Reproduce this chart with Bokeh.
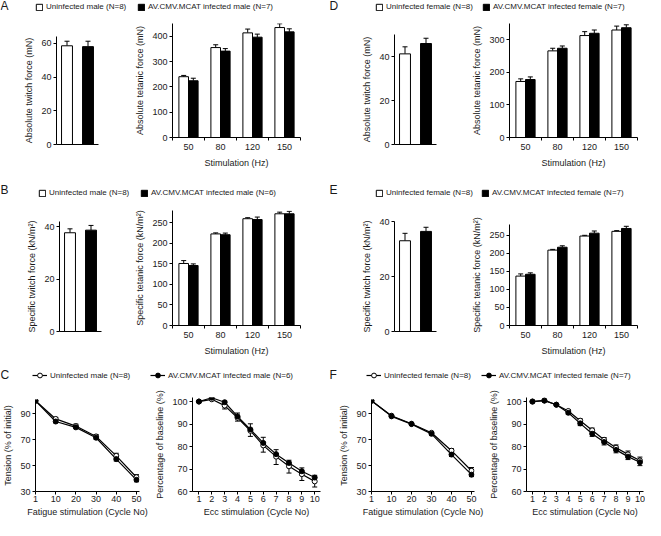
import numpy as np
from bokeh.plotting import figure
from bokeh.models import (ColumnDataSource, Range1d, FixedTicker, Whisker, TeeHead,
                          Legend, LegendItem, Label)
from bokeh.layouts import row, column
from bokeh.embed import file_html
from bokeh.resources import INLINE

# ---------------- data ----------------
freq_labels = ["50", "80", "120", "150"]
fatigue_cycles = [1, 10, 20, 30, 40, 50]
ecc_cycles = [1, 2, 3, 4, 5, 6, 7, 8, 9, 10]

# Panel A (male, absolute force)
A_twitch = [58.5, 58.0]
A_twitch_err = [2.7, 3.2]
A_tet_unf = [240, 355, 413, 434]
A_tet_unf_err = [5, 11, 15, 15]
A_tet_inf = [224, 341, 396, 417]
A_tet_inf_err = [10, 10, 12, 12]

# Panel B (male, specific force)
B_twitch = [37.7, 38.7]
B_twitch_err = [1.5, 1.8]
B_tet_unf = [151, 223, 260, 272]
B_tet_unf_err = [7, 2.5, 2.5, 4]
B_tet_inf = [146, 221, 258, 272]
B_tet_inf_err = [4, 4, 6, 6]

# Panel C (male, fatigue / eccentric)
C_fat_unf = [100, 86, 80.5, 72.5, 57.5, 41]
C_fat_unf_err = [0, 1.2, 1.5, 1.5, 2, 2]
C_fat_inf = [100, 84, 79.5, 71.5, 55, 39]
C_fat_inf_err = [0, 1, 1, 1.2, 1.5, 1.5]
C_ecc_unf = [100, 101, 98.2, 92.8, 87, 80.5, 75.5, 71.2, 67.7, 64.5]
C_ecc_unf_err = [0.3, 0.5, 1.5, 1.5, 2.5, 3, 3.5, 3, 2.8, 2.5]
C_ecc_inf = [100, 101.7, 99.7, 93.4, 87.6, 81.6, 76.6, 72.7, 69, 66.2]
C_ecc_inf_err = [0.3, 0.5, 0.5, 1.5, 2.5, 2.5, 2, 1.2, 1.5, 1]

# Panel D (female, absolute force)
D_twitch = [41.2, 45.9]
D_twitch_err = [3.2, 2.4]
D_tet_unf = [172, 266, 313, 330]
D_tet_unf_err = [8, 8, 12, 12]
D_tet_inf = [178, 274, 320, 337]
D_tet_inf_err = [8, 7, 10, 9]

# Panel E (female, specific force)
E_twitch = [33.0, 36.4]
E_twitch_err = [2.7, 1.5]
E_tet_unf = [137, 209, 248, 261]
E_tet_unf_err = [6, 2, 2, 2]
E_tet_inf = [142, 217, 256, 269]
E_tet_inf_err = [4, 4, 6, 6]

# Panel F (female, fatigue / eccentric)
F_fat_unf = [100, 88.5, 82.3, 75.3, 61.5, 46]
F_fat_unf_err = [0, 0.8, 0.8, 1, 1.5, 2.5]
F_fat_inf = [100, 88, 82, 74.5, 58.5, 43]
F_fat_inf_err = [0, 0.8, 0.8, 1, 1.5, 1.5]
F_ecc_unf = [100, 100.5, 98.6, 95.8, 91.5, 87.2, 83, 79.5, 76.5, 73.8]
F_ecc_unf_err = [0.3, 0.4, 0.4, 0.6, 0.8, 1, 1, 1.2, 1.5, 1.5]
F_ecc_inf = [100, 100.4, 98.6, 95, 90.3, 85.7, 82, 78.5, 75.5, 73]
F_ecc_inf_err = [0.3, 0.4, 0.4, 0.6, 1, 1.2, 1.3, 1.3, 1.3, 1.5]

# ---------------- style ----------------
FONT = "Liberation Sans"
TXT = "#1a1a1a"
BW = 0.3


def make_fig(vgeom, xgeom, xr, yr):
    # vgeom = (border_top, frame_height, border_bottom); xgeom = (left, frame_w, right)
    mbt, fh, mbb = vgeom
    mbl, fw, mbr = xgeom
    p = figure(width=mbl + fw + mbr, height=mbt + fh + mbb, x_range=xr, y_range=yr,
               min_border_left=mbl, min_border_right=mbr,
               min_border_top=mbt, min_border_bottom=mbb,
               output_backend="svg", toolbar_location=None)
    p.outline_line_color = None
    p.grid.visible = False
    p.background_fill_color = "white"
    p.border_fill_color = "white"
    return p


def style_axis(ax, label, ticks, minor=(), overrides=None, tick_out=3,
               label_standoff=2, title_standoff=4):
    ax.axis_label = label
    ax.ticker = FixedTicker(ticks=[float(t) for t in ticks],
                            minor_ticks=[float(t) for t in minor])
    ax.axis_label_text_font = FONT
    ax.axis_label_text_font_size = "9px"
    ax.axis_label_text_font_style = "normal"
    ax.axis_label_text_color = TXT
    ax.axis_label_standoff = title_standoff
    ax.major_label_text_font = FONT
    ax.major_label_text_font_size = "9px"
    ax.major_label_text_color = TXT
    ax.major_label_standoff = label_standoff
    ax.major_tick_in = 0
    ax.major_tick_out = tick_out
    ax.minor_tick_in = 0
    ax.minor_tick_out = 3 if len(minor) else 0
    ax.axis_line_color = "black"
    ax.major_tick_line_color = "black"
    ax.minor_tick_line_color = "black"
    if overrides:
        ax.major_label_overrides = overrides


def add_err(p, src, direction):
    head = TeeHead(size=5, line_width=1, line_color="black")
    if direction == "up":
        w = Whisker(source=src, base="x", upper="hi", lower="y",
                    upper_head=head, lower_head=None, line_width=1, line_color="black")
    else:
        w = Whisker(source=src, base="x", upper="y", lower="lo",
                    lower_head=head, upper_head=None, line_width=1, line_color="black")
    p.add_layout(w)


def twitch_chart(vgeom, xgeom, ymax, yticks, ylabel, means, errs):
    groups = np.arange(len(means))
    p = make_fig(vgeom, xgeom, Range1d(-0.5, len(means) - 0.5), Range1d(0, ymax))
    src = ColumnDataSource(dict(x=groups, y=means, hi=np.add(means, errs),
                                lo=np.subtract(means, errs), fill=["white", "black"]))
    p.vbar(x="x", top="y", bottom=0, width=0.52, fill_color="fill",
           line_color="black", line_width=1, source=src)
    add_err(p, src, "up")
    style_axis(p.yaxis[0], ylabel, yticks)
    style_axis(p.xaxis[0], "", [], tick_out=0)
    return p


def tetanic_chart(vgeom, xgeom, ymax, yticks, ylabel, unf, unf_err, inf, inf_err):
    idx = np.arange(len(freq_labels))
    p = make_fig(vgeom, xgeom, Range1d(-0.5, len(idx) - 0.5), Range1d(0, ymax))
    for off, vals, errs, fill in ((-BW / 2, unf, unf_err, "white"),
                                  (BW / 2, inf, inf_err, "black")):
        src = ColumnDataSource(dict(x=idx + off, y=vals, hi=np.add(vals, errs),
                                    lo=np.subtract(vals, errs)))
        p.vbar(x="x", top="y", bottom=0, width=BW, fill_color=fill,
               line_color="black", line_width=1, source=src)
        add_err(p, src, "up")
    style_axis(p.yaxis[0], ylabel, yticks)
    style_axis(p.xaxis[0], "Stimulation (Hz)", idx,
               minor=np.arange(len(idx) + 1) - 0.5,
               overrides={int(i): lab for i, lab in zip(idx, freq_labels)},
               tick_out=0, label_standoff=3, title_standoff=5)
    return p


def line_chart(vgeom, xgeom, xr, xs, overrides, xlabel, ylabel, ymin, ymax, yticks,
               unf, unf_err, unf_dir, inf, inf_err, inf_dir):
    p = make_fig(vgeom, xgeom, xr, Range1d(ymin, ymax))
    for vals, errs, d in ((unf, unf_err, unf_dir), (inf, inf_err, inf_dir)):
        src = ColumnDataSource(dict(x=xs, y=vals, hi=np.add(vals, errs),
                                    lo=np.subtract(vals, errs)))
        add_err(p, src, d)
        p.line(x="x", y="y", line_color="black", line_width=1.2, source=src)
    for vals, fill in ((unf, "white"), (inf, "black")):
        src = ColumnDataSource(dict(x=xs, y=vals))
        p.scatter(x="x", y="y", marker="circle", size=5, fill_color=fill,
                  line_color="black", line_width=1, source=src)
    style_axis(p.yaxis[0], ylabel, yticks)
    style_axis(p.xaxis[0], xlabel, xs, overrides=overrides,
               label_standoff=1, title_standoff=2)
    return p


def header(w, h, letter, letter_x, letter_y, legends):
    p = figure(width=w, height=h, x_range=Range1d(0, w), y_range=Range1d(0, h),
               x_axis_location=None, y_axis_location=None, min_border=0,
               output_backend="svg", toolbar_location=None)
    p.outline_line_color = None
    p.grid.visible = False
    p.add_layout(Label(x=letter_x, y=letter_y, x_units="screen", y_units="screen",
                       text=letter, text_font=FONT, text_font_size="12px",
                       text_baseline="middle", text_color=TXT))
    for label, kind, fill, vals, vx, vy in legends:
        xs = list(range(len(vals)))
        if kind == "bar":
            # hidden proxy of the series, only used to draw the legend swatch
            r = [p.vbar(x=xs, top=vals, width=0.5, fill_color=fill, line_color="black",
                        line_width=1, visible=False)]
            gw, gh = 8, 8
        else:
            r = [p.line(x=xs, y=vals, line_color="black", line_width=1.2, visible=False),
                 p.scatter(x=xs, y=vals, marker="circle", size=5, fill_color=fill,
                           line_color="black", line_width=1, visible=False)]
            gw, gh = 15, 12
        leg = Legend(items=[LegendItem(label=label, renderers=r)], location=(vx, vy),
                     orientation="horizontal", padding=0, margin=0, spacing=0,
                     border_line_color=None, background_fill_alpha=0,
                     inactive_fill_alpha=0,
                     glyph_width=gw, glyph_height=gh, label_height=gh, label_width=10,
                     label_standoff=3, label_text_font=FONT, label_text_font_size="8px",
                     label_text_color=TXT)
        p.add_layout(leg)
    return p


# ---------------- headers ----------------
hdrA = header(326, 16, "A", 0, 11, [
    ("Uninfected male (N=8)", "bar", "white", A_twitch[:1], 35, 5),
    ("AV.CMV.MCAT infected male (N=7)", "bar", "black", A_twitch[1:], 137, 5)])
hdrD = header(319, 16, "D", 3, 11, [
    ("Uninfected female (N=8)", "bar", "white", D_twitch[:1], 49, 5),
    ("AV.CMV.MCAT infected female (N=7)", "bar", "black", D_twitch[1:], 156, 5)])
hdrB = header(326, 21, "B", 0, 11, [
    ("Uninfected male (N=8)", "bar", "white", B_twitch[:1], 38, 3),
    ("AV.CMV.MCAT infected male (N=6)", "bar", "black", B_twitch[1:], 140, 3)])
hdrE = header(319, 21, "E", 3, 11, [
    ("Uninfected female (N=8)", "bar", "white", E_twitch[:1], 49, 3),
    ("AV.CMV.MCAT infected female (N=7)", "bar", "black", E_twitch[1:], 155, 3)])
hdrC = header(326, 20, "C", 0, 8, [
    ("Uninfected male (N=8)", "line", "white", C_fat_unf, 32, 1),
    ("AV.CMV.MCAT infected male (N=6)", "line", "black", C_fat_inf, 150, 1)])
hdrF = header(319, 20, "F", 3, 8, [
    ("Uninfected female (N=8)", "line", "white", F_fat_unf, 40, 1),
    ("AV.CMV.MCAT infected female (N=7)", "line", "black", F_fat_inf, 155, 1)])

# ---------------- charts ----------------
twA = twitch_chart((20, 108, 35), (56, 42, 16), 64, [0, 20, 40, 60],
                   "Absolute twitch force (mN)", A_twitch, A_twitch_err)
tetA = tetanic_chart((7, 114, 42), (58, 128, 26), 450, [0, 100, 200, 300, 400],
                     "Absolute tetanic force (mN)", A_tet_unf, A_tet_unf_err,
                     A_tet_inf, A_tet_inf_err)
twD = twitch_chart((18, 110, 35), (68, 42, 10), 50, [0, 20, 40],
                   "Absolute twitch force (mN)", D_twitch, D_twitch_err)
tetD = tetanic_chart((7, 114, 42), (63, 128, 8), 350, [0, 100, 200, 300],
                     "Absolute tetanic force (mN)", D_tet_unf, D_tet_unf_err,
                     D_tet_inf, D_tet_inf_err)

twB = twitch_chart((21, 110, 31), (59, 42, 13), 42, [0, 20, 40],
                   "Specific twitch force (kN/m²)", B_twitch, B_twitch_err)
tetB = tetanic_chart((10, 115, 37), (58, 128, 26), 280, [0, 50, 100, 150, 200, 250],
                     "Specific tetanic force (kN/m²)", B_tet_unf, B_tet_unf_err,
                     B_tet_inf, B_tet_inf_err)
twE = twitch_chart((21, 110, 31), (68, 42, 10), 40, [0, 20, 40],
                   "Specific twitch force (kN/m²)", E_twitch, E_twitch_err)
tetE = tetanic_chart((24, 101, 37), (63, 128, 8), 280, [0, 50, 100, 150, 200, 250],
                     "Specific tetanic force (kN/m²)", E_tet_unf, E_tet_unf_err,
                     E_tet_inf, E_tet_inf_err)

fat_pos = list(range(len(fatigue_cycles)))
fat_over = {i: str(c) for i, c in zip(fat_pos, fatigue_cycles)}

fatC = line_chart((17, 92, 29), (35, 104, 13), Range1d(0, 5.15), fat_pos, fat_over,
                  "Fatigue stimulation (Cycle No)", "Tension (% of initial)",
                  30, 101, [30, 50, 70, 90],
                  C_fat_unf, C_fat_unf_err, "up", C_fat_inf, C_fat_inf_err, "down")
eccC = line_chart((15, 94, 29), (37, 131, 6), Range1d(0.5, 10.45), ecc_cycles, None,
                  "Ecc stimulation (Cycle No)", "Percentage of baseline (%)",
                  60, 101.8, [60, 70, 80, 90, 100],
                  C_ecc_unf, C_ecc_unf_err, "down", C_ecc_inf, C_ecc_inf_err, "up")
fatF = line_chart((17, 92, 29), (45, 103, 12), Range1d(0, 5.15), fat_pos, fat_over,
                  "Fatigue stimulation (Cycle No)", "Tension (% of initial)",
                  30, 101, [30, 50, 70, 90],
                  F_fat_unf, F_fat_unf_err, "up", F_fat_inf, F_fat_inf_err, "down")
eccF = line_chart((15, 94, 29), (37, 120, 2), Range1d(0.5, 10.3), ecc_cycles, None,
                  "Ecc stimulation (Cycle No)", "Percentage of baseline (%)",
                  60, 101.8, [60, 70, 80, 90, 100],
                  F_ecc_unf, F_ecc_unf_err, "up", F_ecc_inf, F_ecc_inf_err, "down")


def chart_row(*plots):
    # each plot sits in its own column so that the row does not align their frames
    return row(*[column(p) for p in plots])


root = column(
    row(hdrA, hdrD),
    chart_row(twA, tetA, twD, tetD),
    row(hdrB, hdrE),
    chart_row(twB, tetB, twE, tetE),
    row(hdrC, hdrF),
    chart_row(fatC, eccC, fatF, eccF),
)

open("out.html", "w").write(file_html(root, INLINE, title="Muscle force"))
